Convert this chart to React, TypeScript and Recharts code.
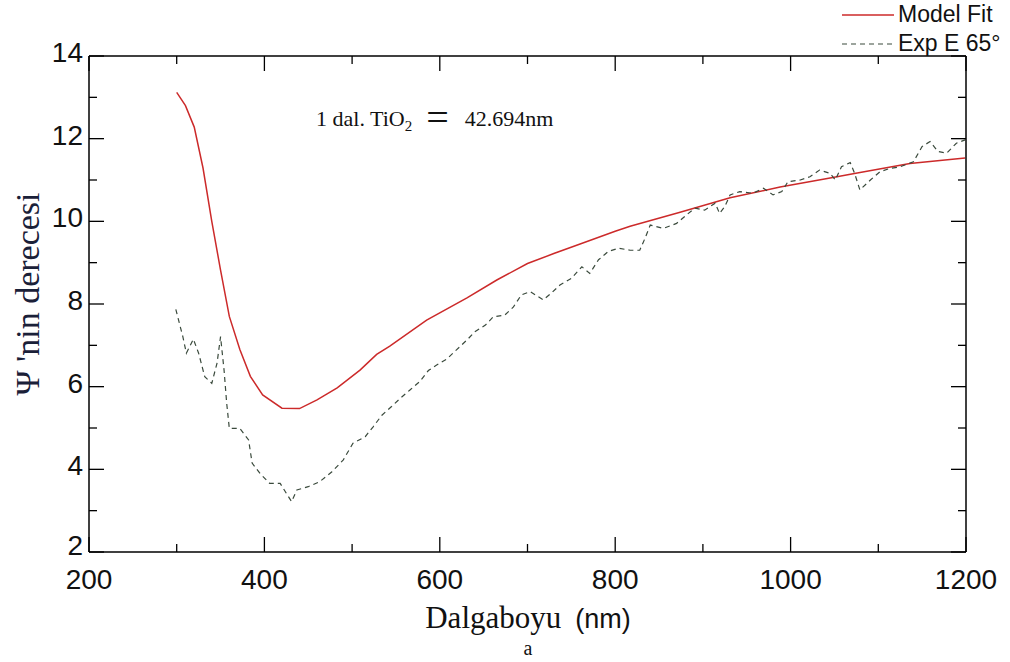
import React from 'react';
import { LineChart, Line, XAxis, YAxis } from 'recharts';

// Model fit (red solid) — wavelength (nm) / Psi (deg)
const fitWl = [300, 310, 320, 330, 340, 350, 360, 372, 384, 398, 420, 440, 460, 483, 509, 528, 543, 585, 631, 665, 700, 730, 760, 800, 817, 874, 931, 988, 1045, 1076, 1136, 1199];
const fitPsi = [13.12, 12.8, 12.28, 11.29, 10.0, 8.82, 7.7, 6.9, 6.25, 5.8, 5.48, 5.47, 5.68, 5.97, 6.4, 6.78, 6.98, 7.61, 8.15, 8.58, 8.98, 9.22, 9.45, 9.76, 9.88, 10.22, 10.57, 10.83, 11.05, 11.17, 11.4, 11.53];

// Experimental data, 65 deg (dashed)
const expWl = [299, 307, 311, 319, 325, 332, 340, 346, 350, 354, 357, 360, 372, 382, 386, 395, 406, 418, 425, 431, 437, 450, 463, 477, 490, 501, 515, 524, 534, 545, 555, 566, 577, 587, 596, 608, 619, 631, 640, 652, 661, 674, 684, 693, 703, 718, 727, 737, 750, 762, 771, 781, 792, 804, 817, 828, 834, 840, 855, 870, 881, 891, 902, 914, 919, 925, 931, 942, 957, 969, 980, 990, 997, 1011, 1022, 1033, 1045, 1051, 1058, 1068, 1073, 1079, 1091, 1102, 1113, 1125, 1140, 1150, 1159, 1168, 1178, 1189, 1199];
const expPsi = [7.87, 7.21, 6.81, 7.15, 6.81, 6.24, 6.08, 6.57, 7.21, 6.4, 5.6, 4.99, 4.99, 4.71, 4.15, 3.9, 3.66, 3.66, 3.42, 3.22, 3.5, 3.58, 3.7, 3.94, 4.23, 4.63, 4.79, 5.03, 5.31, 5.52, 5.72, 5.92, 6.12, 6.39, 6.52, 6.67, 6.89, 7.13, 7.33, 7.49, 7.69, 7.73, 7.93, 8.22, 8.3, 8.1, 8.26, 8.46, 8.62, 8.9, 8.74, 9.07, 9.27, 9.35, 9.3, 9.3, 9.59, 9.91, 9.83, 9.95, 10.15, 10.32, 10.27, 10.44, 10.19, 10.36, 10.64, 10.72, 10.68, 10.8, 10.64, 10.72, 10.96, 11.0, 11.08, 11.24, 11.16, 11.0, 11.32, 11.42, 11.16, 10.76, 11.0, 11.2, 11.28, 11.32, 11.44, 11.81, 11.93, 11.69, 11.65, 11.89, 11.97];

const xTicks = [200, 300, 400, 500, 600, 700, 800, 900, 1000, 1100, 1200];
const yTicks = [2, 3, 4, 5, 6, 7, 8, 9, 10, 11, 12, 13, 14];

const fitData = fitWl.map((wl, i) => ({ wl, psi: fitPsi[i] }));
const expData = expWl.map((wl, i) => ({ wl, psi: expPsi[i] }));

const SANS = '"Liberation Sans", Arial, sans-serif';
const SERIF = '"Liberation Serif", "Times New Roman", serif';

// inward ticks, long on labelled values
const BottomTick = (props: any) => {
    const { x, y, payload } = props;
    const major = payload.value % 200 === 0;
    return (
        <g>
            <line x1={x} x2={x} y1={y} y2={y - (major ? 15 : 8)} stroke="#000" strokeWidth={1.3} />
            {major && (
                <text x={x} y={y + 37} textAnchor="middle" fontSize={28} fontFamily={SANS} fill="#111">
                    {payload.value}
                </text>
            )}
        </g>
    );
};

const TopTick = (props: any) => {
    const { x, y, payload } = props;
    const major = payload.value % 200 === 0;
    return <line x1={x} x2={x} y1={y} y2={y + (major ? 15 : 8)} stroke="#000" strokeWidth={1.3} />;
};

const LeftTick = (props: any) => {
    const { x, y, payload } = props;
    const major = payload.value % 2 === 0;
    const lift = payload.value === 2 ? 3 : 0;
    return (
        <g>
            <line x1={x} x2={x + (major ? 15 : 8)} y1={y} y2={y} stroke="#000" strokeWidth={1.3} />
            {major && (
                <text x={x - 6} y={y + 6 - lift} textAnchor="end" fontSize={28} fontFamily={SANS} fill="#111">
                    {payload.value}
                </text>
            )}
        </g>
    );
};

const RightTick = (props: any) => {
    const { x, y, payload } = props;
    const major = payload.value % 2 === 0;
    return <line x1={x} x2={x - (major ? 15 : 8)} y1={y} y2={y} stroke="#000" strokeWidth={1.3} />;
};

export default function App() {
    return (
        <div style={{ position: 'absolute', left: 0, top: 0, width: 1010, height: 662, background: '#fff' }}>
            <LineChart width={1010} height={662} margin={{ top: 46, right: 34, bottom: 70, left: 29 }}>
                <XAxis xAxisId="bottom" dataKey="wl" type="number" domain={[200, 1200]} ticks={xTicks} interval={0}
                    allowDataOverflow height={40} tickSize={0} tickMargin={0} tickLine={false}
                    axisLine={{ stroke: '#000', strokeWidth: 1.5 }} tick={<BottomTick />} />
                <XAxis xAxisId="top" orientation="top" dataKey="wl" type="number" domain={[200, 1200]} ticks={xTicks} interval={0}
                    allowDataOverflow height={10} tickSize={0} tickMargin={0} tickLine={false}
                    axisLine={{ stroke: '#000', strokeWidth: 1.5 }} tick={<TopTick />} />
                <YAxis yAxisId="left" type="number" domain={[2, 14]} ticks={yTicks} interval={0}
                    allowDataOverflow width={60} tickSize={0} tickMargin={0} tickLine={false}
                    axisLine={{ stroke: '#000', strokeWidth: 1.5 }} tick={<LeftTick />} />
                <YAxis yAxisId="right" orientation="right" type="number" domain={[2, 14]} ticks={yTicks} interval={0}
                    allowDataOverflow width={10} tickSize={0} tickMargin={0} tickLine={false}
                    axisLine={{ stroke: '#000', strokeWidth: 1.5 }} tick={<RightTick />} />
                <Line xAxisId="bottom" yAxisId="left" data={fitData} dataKey="psi" type="linear"
                    stroke="#cc2a2a" strokeWidth={1.5} dot={false} isAnimationActive={false} name="Model Fit" />
                <Line xAxisId="bottom" yAxisId="left" data={expData} dataKey="psi" type="linear"
                    stroke="#3a4a3c" strokeWidth={1.2} strokeDasharray="5 4" dot={false} isAnimationActive={false} name="Exp E 65°" />
            </LineChart>

            {/* legend, top right */}
            <div style={{ position: 'absolute', left: 842, top: 0, fontFamily: SANS, fontSize: 23, color: '#111', lineHeight: '29px' }}>
                <div style={{ display: 'flex', alignItems: 'center' }}>
                    <svg width={56} height={10}><line x1={0} x2={52} y1={5} y2={5} stroke="#cc2a2a" strokeWidth={1.5} /></svg>
                    <span>Model Fit</span>
                </div>
                <div style={{ display: 'flex', alignItems: 'center' }}>
                    <svg width={56} height={10}><line x1={0} x2={52} y1={5} y2={5} stroke="#3a4a3c" strokeWidth={1.2} strokeDasharray="5 4" /></svg>
                    <span>Exp E 65°</span>
                </div>
            </div>

            <div style={{ position: 'absolute', left: 316, top: 89, fontFamily: SERIF, fontSize: 22, color: '#111', whiteSpace: 'nowrap' }}>
                1 dal. TiO<sub style={{ fontSize: 15 }}>2</sub>
                <span style={{ fontSize: 40, margin: '0 16px 0 14px', position: 'relative', top: 5 }}>=</span>
                42.694nm
            </div>

            <div style={{ position: 'absolute', left: 28, top: 294, transform: 'translate(-50%, -50%) rotate(-90deg)', fontFamily: SERIF, fontSize: 34, color: '#1a2038', whiteSpace: 'nowrap' }}>
                Ψ 'nin derecesi
            </div>

            <div style={{ position: 'absolute', left: 528, top: 618, transform: 'translate(-50%, -50%)', whiteSpace: 'nowrap', color: '#111' }}>
                <span style={{ fontFamily: SERIF, fontSize: 31 }}>Dalgaboyu</span>
                <span style={{ fontFamily: SANS, fontSize: 27, marginLeft: 14 }}>(nm)</span>
            </div>

            <div style={{ position: 'absolute', left: 528, top: 648, transform: 'translate(-50%, -50%)', fontFamily: SERIF, fontSize: 20, color: '#111' }}>
                a
            </div>
        </div>
    );
}
